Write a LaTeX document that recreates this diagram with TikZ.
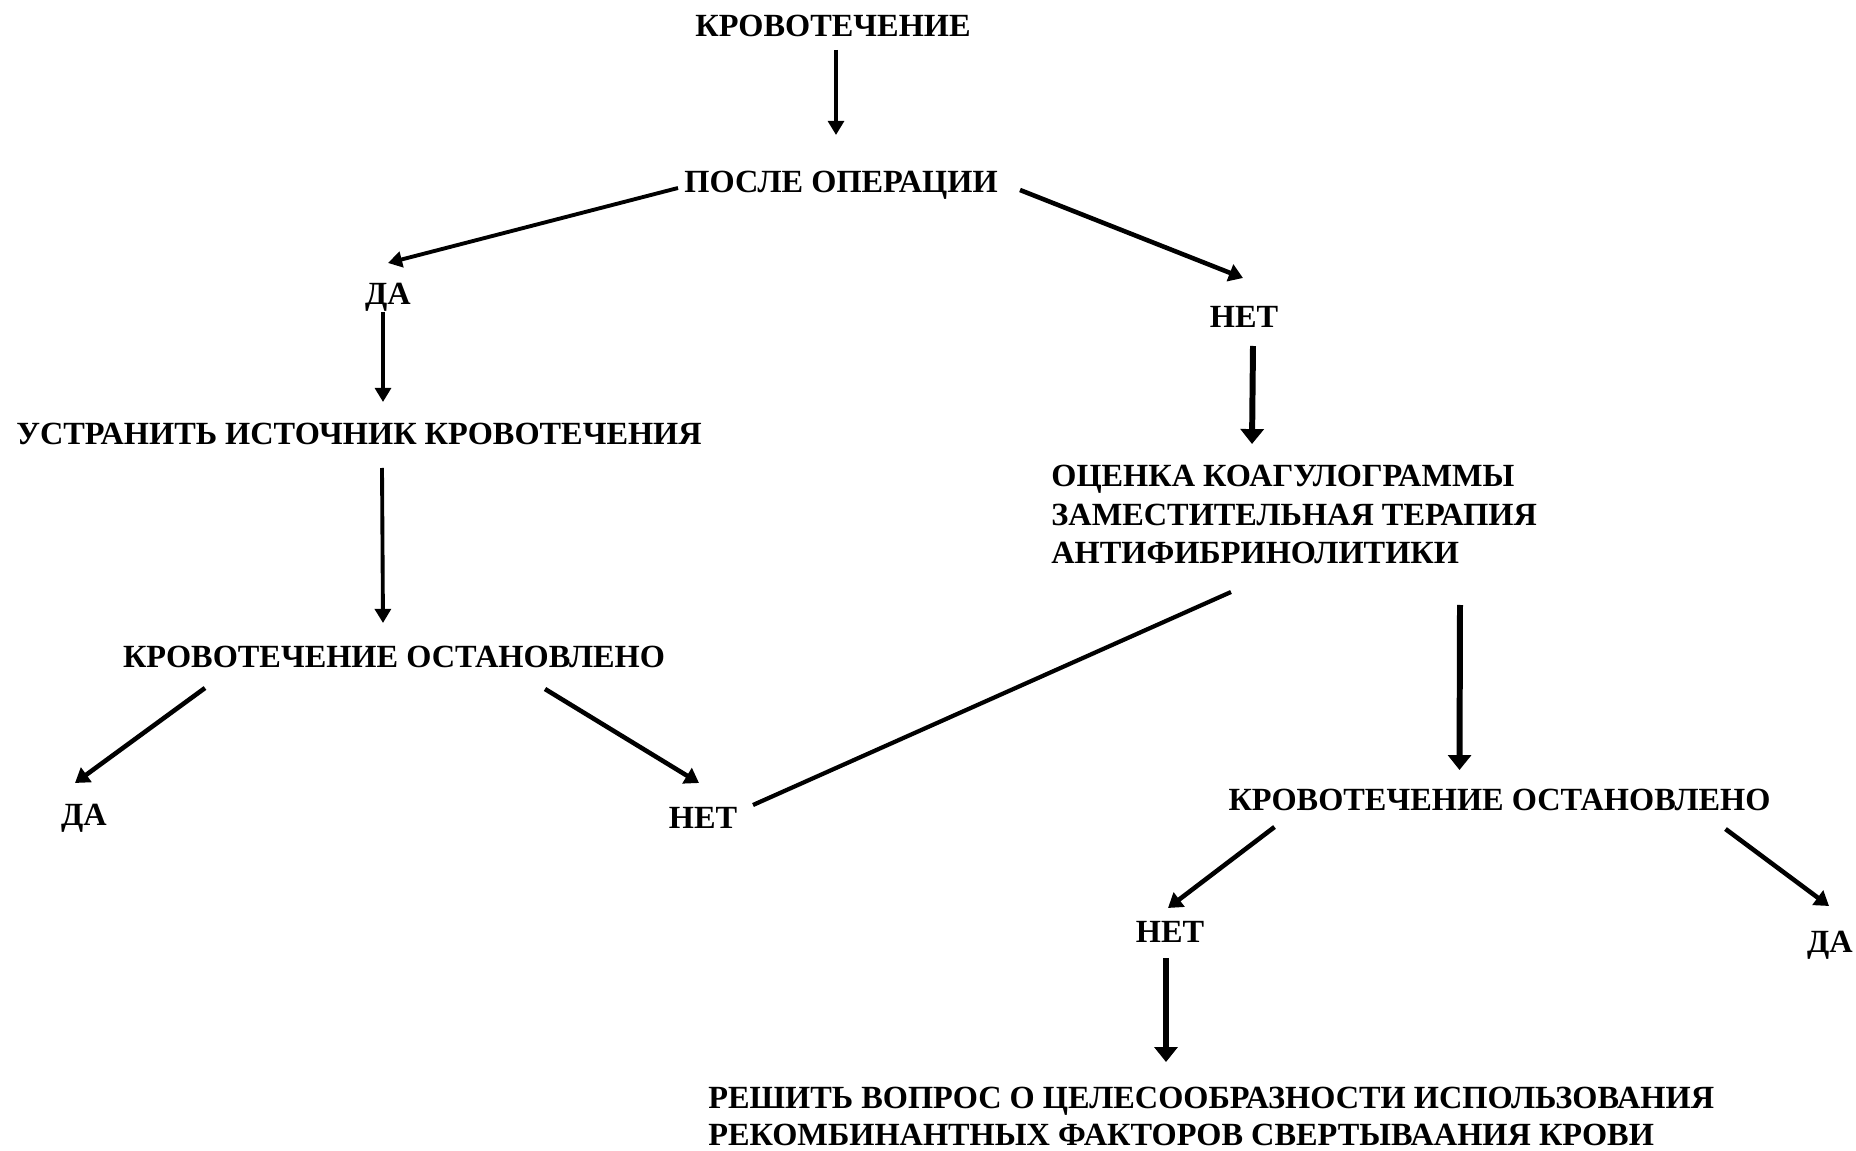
\documentclass[tikz,border=0pt]{standalone}
\usepackage{fontspec}
\setmainfont{Liberation Serif}
\usetikzlibrary{arrows.meta,calc}
\tikzset{
  lbl/.style={font=\bfseries\fontsize{18.4}{22}\selectfont, inner sep=0pt, anchor=base},
  lblml/.style={font=\bfseries\fontsize{18.4}{22}\selectfont, inner sep=0pt, anchor=base west, align=left},
  thin/.style={line width=2.2pt, -{Triangle[length=8pt,width=9pt]}},
  mid/.style={line width=2.6pt, -{Triangle[length=8pt,width=10pt]}},
  thick/.style={line width=3.4pt, -{Triangle[length=8.5pt,width=13pt]}},
  plain/.style={line width=2.4pt}
}
\begin{document}
\begin{tikzpicture}[x=0.02cm,y=-0.02cm]
\useasboundingbox[fill=white] (0,0) rectangle (1856,1151);
\node[lbl] (n1) at (833,37) {КРОВОТЕЧЕНИЕ};
\node[lbl] (n2) at (841,193) {ПОСЛЕ ОПЕРАЦИИ};
\node[lbl] (n3) at (388,305) {ДА};
\node[lbl] (n4) at (1244,328) {НЕТ};
\node[lbl] (n5) at (359,445) {УСТРАНИТЬ ИСТОЧНИК КРОВОТЕЧЕНИЯ};
\node[lbl] (n6) at (394,668) {КРОВОТЕЧЕНИЕ ОСТАНОВЛЕНО};
\node[lbl] (n7) at (84,825) {ДА};
\node[lbl] (n8) at (703,828) {НЕТ};
\node[lblml] (n9) at (1051,564) {ОЦЕНКА КОАГУЛОГРАММЫ\\ЗАМЕСТИТЕЛЬНАЯ ТЕРАПИЯ\\АНТИФИБРИНОЛИТИКИ};
\node[lbl] (n10) at (1499.5,810) {КРОВОТЕЧЕНИЕ ОСТАНОВЛЕНО};
\node[lbl] (n11) at (1170,942) {НЕТ};
\node[lbl] (n12) at (1830,952) {ДА};
\node[lblml, font=\bfseries\fontsize{18.4}{21}\selectfont] (n13) at (708,1145) {РЕШИТЬ ВОПРОС О ЦЕЛЕСООБРАЗНОСТИ ИСПОЛЬЗОВАНИЯ\\РЕКОМБИНАНТНЫХ ФАКТОРОВ СВЕРТЫВААНИЯ КРОВИ};

\draw[thin] ($(n1.base)+(3,13)$) -- ($(n2.base)+(-5,-58)$);
\draw[thin] ($(n2.base)+(-163,-5)$) -- ($(n3.base)+(0,-42)$);
\draw[mid] ($(n2.base)+(179,-3)$) -- ($(n4.base)+(-1,-50)$);
\draw[thin] ($(n3.base)+(-5,7)$) -- ($(n5.base)+(24,-43)$);
\draw[thin] ($(n5.base)+(23,23)$) -- ($(n6.base)+(-11,-45)$);
\draw[mid] ($(n6.base)+(-189,20)$) -- ($(n7.base)+(-9,-42)$);
\draw[mid] ($(n6.base)+(151,21)$) -- ($(n8.base)+(-4,-45)$);
\draw[plain] ($(n8.base)+(50,-23)$) -- ($(n9.base west)+(180,28)$);
\draw[thick] ($(n4.base)+(9,18)$) -- ($(n9.base west)+(201,-120)$);
\draw[thick] ($(n9.base west)+(409,41)$) -- ($(n10.base)+(-40,-40)$);
\draw[mid] ($(n10.base)+(-225,17)$) -- ($(n11.base)+(-2,-34)$);
\draw[mid] ($(n10.base)+(226,19)$) -- ($(n12.base)+(-1,-46)$);
\draw[thick] ($(n11.base)+(-4,16)$) -- ($(n13.base west)+(458,-83)$);
\end{tikzpicture}
\end{document}
